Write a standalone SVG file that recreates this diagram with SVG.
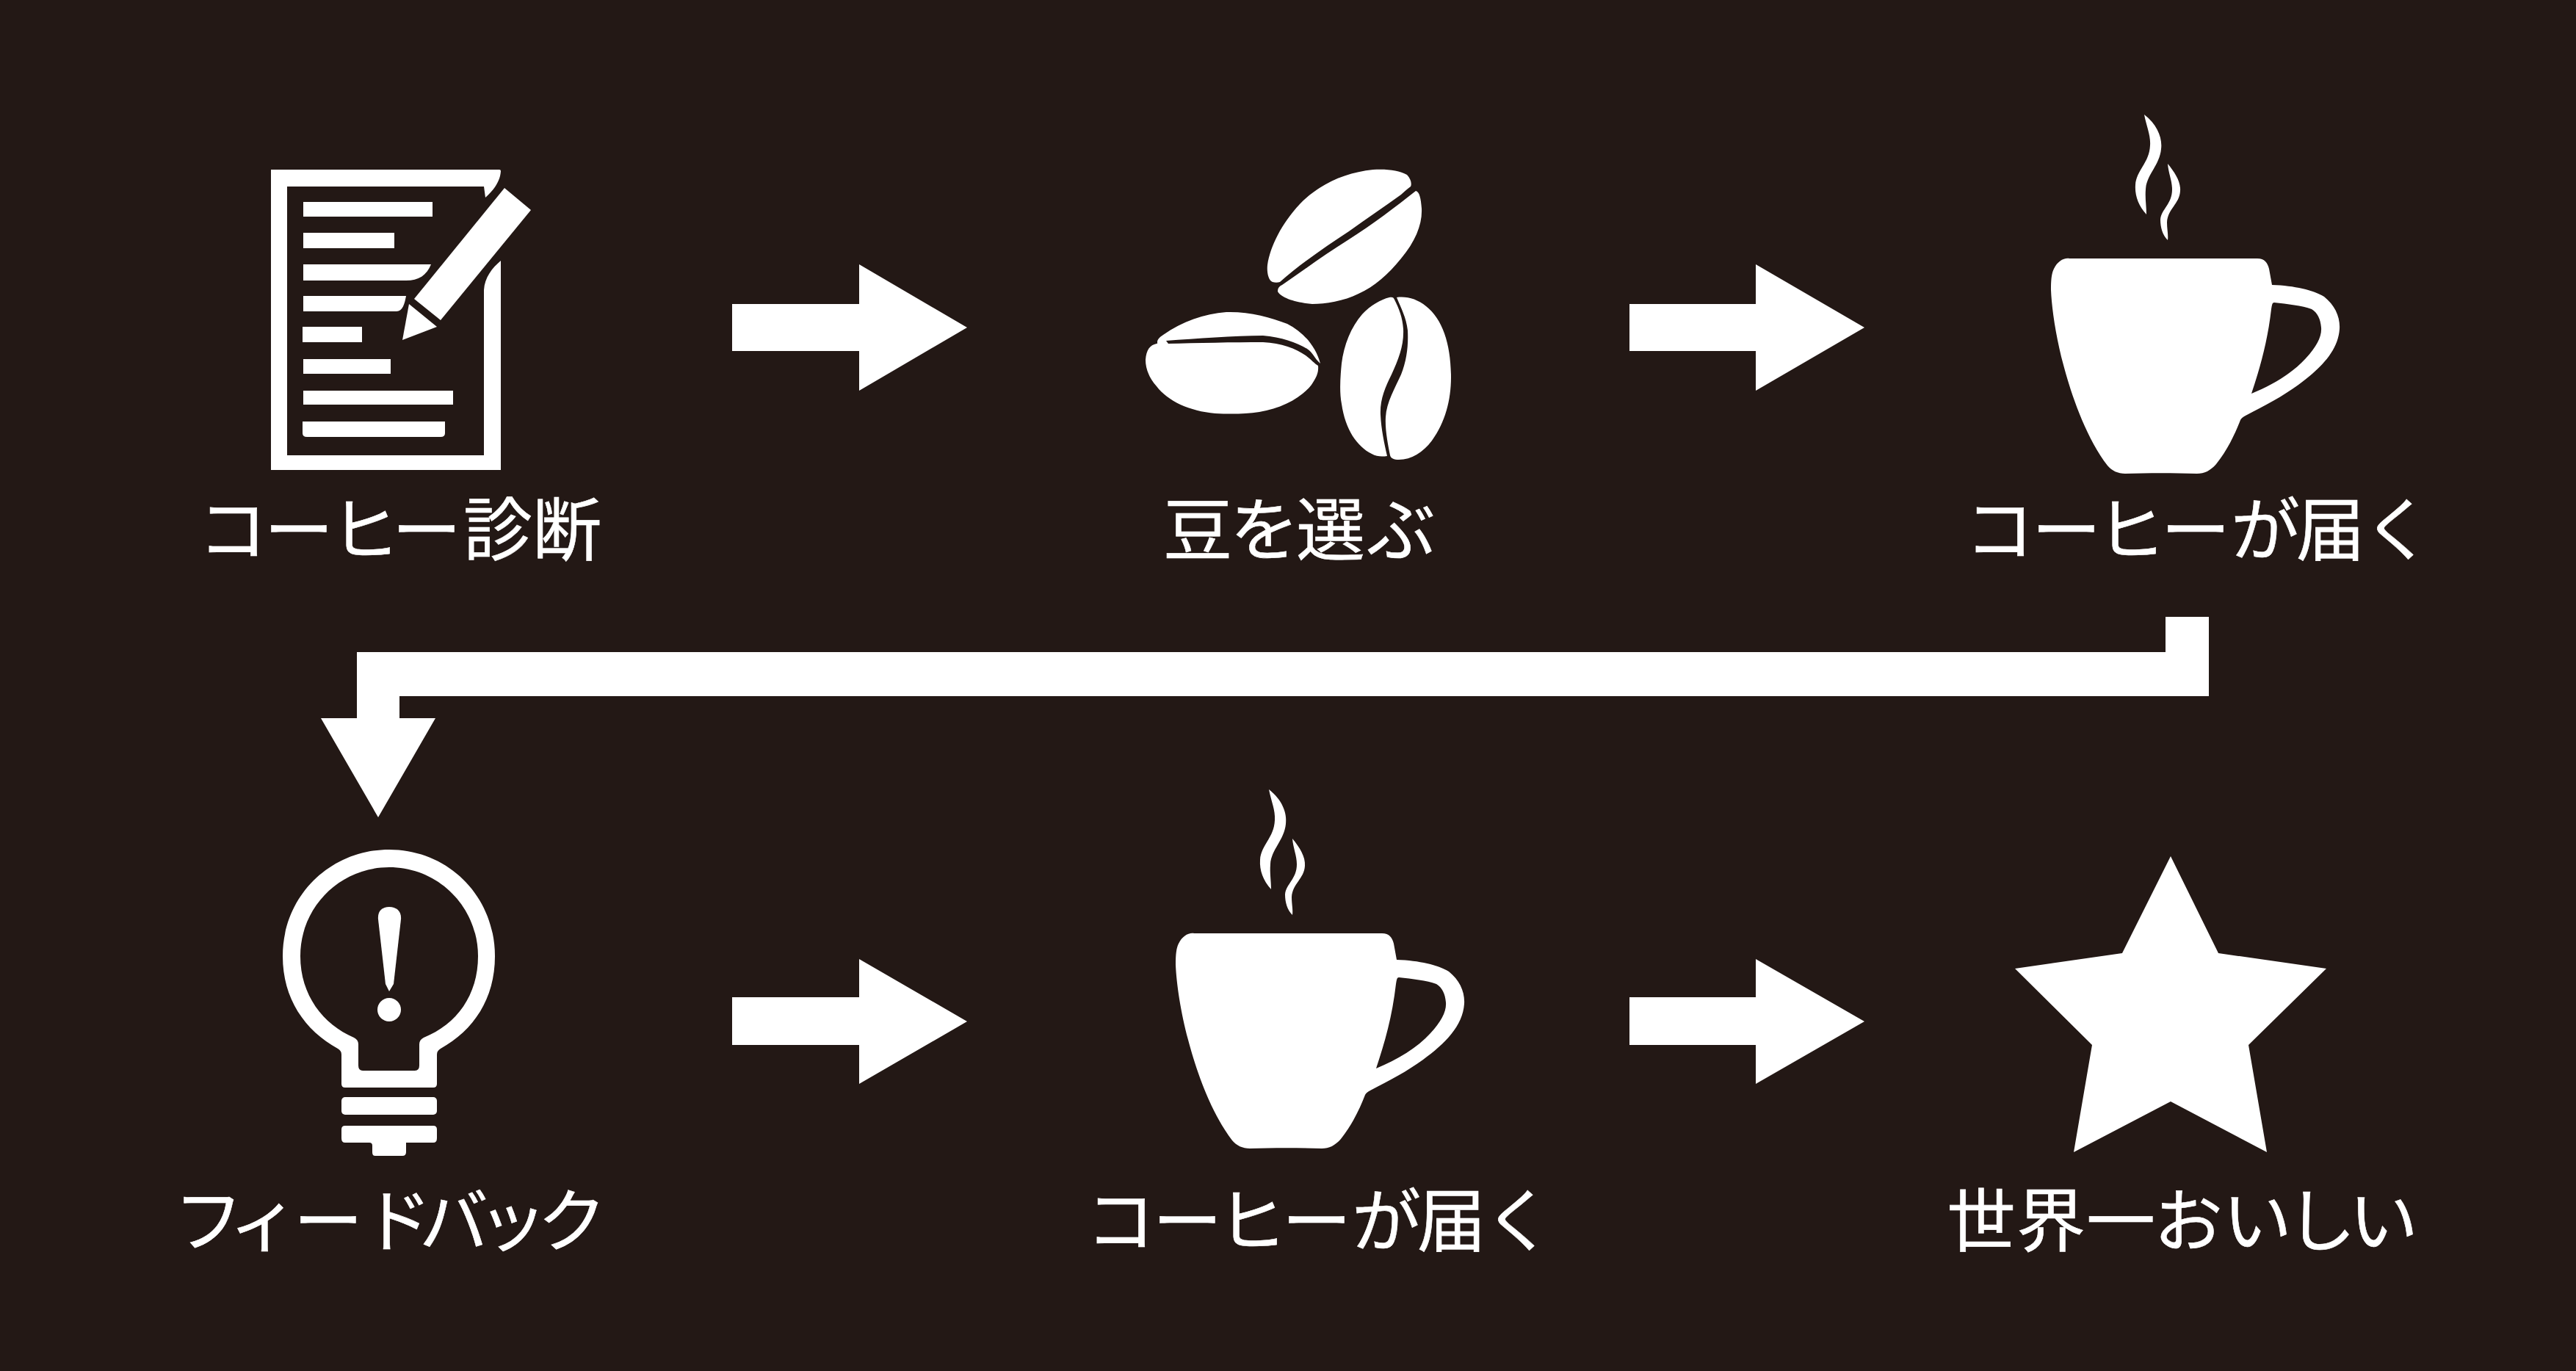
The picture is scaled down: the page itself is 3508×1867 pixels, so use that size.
<svg xmlns="http://www.w3.org/2000/svg" xmlns:xlink="http://www.w3.org/1999/xlink" width="3508" height="1867" viewBox="0 0 3508 1867">
<style>
.w{fill:#fff}
.b{fill:#231815}
text{fill:#fff;stroke:#fff;stroke-width:.6px;font-family:"Noto Sans CJK JP","Noto Sans",sans-serif;font-size:94px;text-anchor:middle}
</style>
<defs>
<g id="cup">
<path class="w" d="M2920 156C2938 170 2945 188 2943 203C2941 225 2923 238 2922 258C2921 270 2923 280 2923 292C2912 280 2907 266 2908 252C2909 232 2927 222 2928 198C2929 184 2923 172 2920 156Z"/>
<path class="w" d="M2952 223C2962 235 2970 248 2969 260C2968 278 2952 284 2951 303C2951 312 2953 320 2952 327C2945 320 2942 310 2942 299C2943 285 2958 278 2958 258C2958 246 2953 236 2952 223Z"/>
<path class="w" fill-rule="evenodd" d="M2818 352L3074 352C3084 352 3088 358 3090 366L3094 388C3125 389 3150 395 3165 404C3180 416 3187 432 3186 448C3184 478 3160 502 3130 524C3108 540 3085 552 3058 566C3054 568 3052 570 3051 572C3044 590 3034 612 3018 632C3010 641 3002 645 2992 645C2960 644 2925 644 2894 645C2884 645 2876 641 2870 634C2840 595 2820 535 2810 497C2800 460 2794 420 2793 395C2793 380 2794 372 2797 366C2802 356 2810 351 2818 352ZM3097 412C3094 412 3094 416 3093 421C3088 465 3078 500 3066 536C3095 524 3122 508 3140 488C3155 472 3162 458 3161 446C3160 434 3156 426 3148 421C3135 416 3115 414 3097 412Z"/>
</g>
</defs>
<rect width="3508" height="1867" class="b"/>
<g id="connectors">
<polygon class="w" points="997,414 1170,414 1170,360 1317,446 1170,532 1170,478 997,478"/>
<polygon class="w" points="2219,414 2391,414 2391,360 2539,446 2391,532 2391,478 2219,478"/>
<polygon class="w" points="997,1358 1170,1358 1170,1306 1317,1391 1170,1476 1170,1423 997,1423"/>
<polygon class="w" points="2219,1358 2391,1358 2391,1306 2539,1391 2391,1476 2391,1423 2219,1423"/>
<polygon class="w" points="2949,840 3008,840 3008,948 544,948 544,978 593,978 515,1113 437,978 486,978 486,888 2949,888"/>
</g>
<g id="node-diagnosis">
<path class="w" fill-rule="evenodd" d="M369 231H680Q682 231 682 233C681 248 672 259 661 269L659 254H391V620H659V395C660 378 670 365 682 355V640H369Z"/>
<path class="w" d="M687 256L723 286L600 436L564 407Z"/>
<path class="w" d="M557 414L595 445L548 463Z"/>
<rect class="w" x="413" y="275" width="176" height="20"/>
<rect class="w" x="413" y="317" width="124" height="21"/>
<path class="w" d="M413 360H587C581 375 570 382 553 382H413Z"/>
<path class="w" d="M413 403H553C551 414 548 424 540 424H413Z"/>
<rect class="w" x="412" y="445" width="81" height="21"/>
<rect class="w" x="413" y="489" width="119" height="20"/>
<rect class="w" x="413" y="532" width="204" height="19"/>
<path class="w" d="M412 574H606V590Q606 595 600 595H418Q412 595 412 590Z"/>
<text x="317 407 497 581 678 772" y="756">コーヒー診断</text>
</g>
<g id="node-beans">
<path class="w" d="M1733 384C1727 382 1725 370 1726 361C1730 335 1745 305 1770 278C1795 252 1830 235 1870 231C1890 230 1905 232 1916 238C1921 243 1923 250 1921 254C1916 258 1912 261 1908 265C1885 282 1860 298 1837 315C1805 336 1770 360 1743 384C1740 385 1736 385 1733 384Z"/>
<path class="w" d="M1740 397C1740 392 1742 390 1746 388C1775 368 1805 346 1837 326C1870 305 1900 282 1928 260C1933 261 1935 270 1936 284C1937 305 1928 328 1908 352C1890 374 1872 390 1850 400C1830 410 1805 414 1787 414C1765 412 1745 406 1740 397Z"/>
<path class="w" d="M1577 470C1574 464 1578 460 1584 456C1610 438 1640 427 1670 425C1700 424 1730 432 1753 441C1775 452 1792 472 1798 495C1790 488 1788 480 1780 475C1765 466 1745 459 1720 457C1680 457 1630 461 1588 464L1591 468Z"/>
<path class="w" d="M1575 468C1584 466 1584 467 1590 468C1630 467 1680 466 1720 466C1745 467 1765 475 1778 484C1786 490 1790 495 1795 498C1796 508 1792 515 1786 524C1772 542 1745 556 1715 561C1695 564 1675 564 1655 563C1620 560 1590 546 1575 526C1565 515 1560 502 1560 490C1561 476 1566 470 1575 468Z"/>
<path class="w" d="M1892 405C1896 404 1898 405 1899 408C1905 420 1910 432 1911 448C1912 470 1905 488 1895 510C1886 528 1879 545 1880 565C1881 585 1885 603 1889 621C1882 622 1875 622 1868 618C1848 608 1832 585 1827 550C1824 535 1825 515 1827 495C1830 470 1840 445 1855 428C1866 416 1880 408 1892 405Z"/>
<path class="w" d="M1902 405C1915 403 1930 407 1942 417C1965 435 1976 470 1976 514C1976 545 1968 575 1950 600C1938 616 1922 626 1905 626C1898 626 1894 624 1893 620C1890 605 1886 585 1887 568C1888 548 1900 528 1908 510C1916 490 1918 470 1917 450C1915 432 1908 420 1902 405Z"/>
<text x="1631 1722 1812 1908" y="756">豆を選ぶ</text>
</g>
<g id="node-cup-1">
<use xlink:href="#cup" href="#cup"/>
<text x="2723 2814 2902 2990 3085 3174 3265" y="756">コーヒーが届く</text>
</g>
<g id="node-feedback">
<path class="w" fill-rule="evenodd" d="M530 1157C610 1157 674 1220 674 1302C674 1360 645 1403 600 1428C597 1430 595 1432 595 1436V1476Q595 1481 590 1481H470Q465 1481 465 1476V1436C465 1432 463 1430 460 1428C415 1403 385 1360 385 1302C385 1220 450 1157 530 1157ZM530 1181C463 1181 409 1235 409 1302C409 1355 440 1395 482 1413C486 1415 488 1418 488 1422V1451Q488 1458 494 1458H565Q571 1458 571 1451V1422C571 1418 573 1415 577 1413C622 1395 651 1355 651 1302C651 1235 597 1181 530 1181Z"/>
<rect class="w" x="465" y="1494" width="130" height="24" rx="5"/>
<path class="w" d="M470 1533H590Q595 1533 595 1538V1550Q595 1556 590 1556H553V1569Q553 1574 548 1574H511Q507 1574 507 1569V1560Q507 1556 503 1556H470Q465 1556 465 1550V1538Q465 1533 470 1533Z"/>
<path class="w" d="M530 1235C540 1235 547 1241 546 1252L536 1340L530 1350L525 1340L515 1252C514 1241 520 1235 530 1235Z"/>
<circle class="w" cx="530" cy="1375" r="16"/>
<text x="284 359 447 541 618 698 779" y="1697">フィードバック</text>
</g>
<g id="node-cup-2">
<use xlink:href="#cup" href="#cup" transform="translate(-1192 919)"/>
<text x="1526 1617 1705 1793 1888 1977 2068" y="1697">コーヒーが届く</text>
</g>
<g id="node-star">
<polygon class="w" points="2956,1166 3021,1298 3168,1319 3062,1423 3087,1569 2956,1500 2824,1569 2849,1423 2744,1319 2890,1298"/>
<text x="2698 2793 2888 2980 3074 3161 3246" y="1697">世界一おいしい</text>
</g>
</svg>
